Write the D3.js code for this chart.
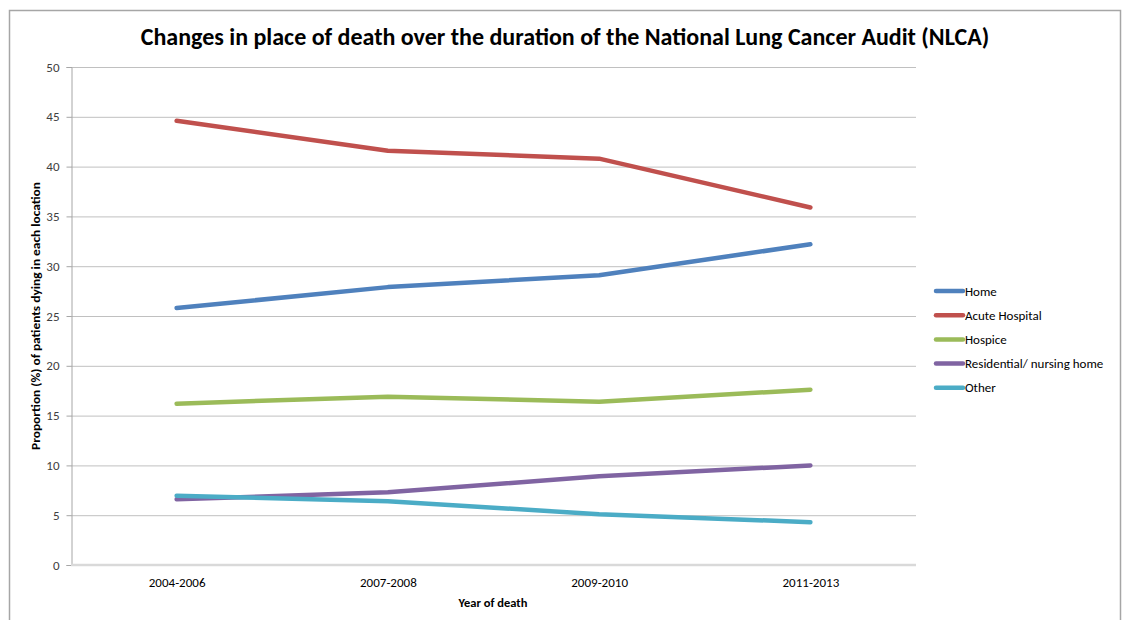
<!DOCTYPE html>
<html><head><meta charset="utf-8">
<script src="https://cdn.jsdelivr.net/npm/d3@7"></script>
<style>
body{margin:0;background:#fff;}
svg{display:block;font-family:Carlito,Calibri,"Open Sans",sans-serif;}
</style></head><body>
<svg id="chart" width="1126" height="620"></svg>
<script>
const categories = ["2004-2006","2007-2008","2009-2010","2011-2013"];
const seriesNames = ["Home","Acute Hospital","Hospice","Residential/ nursing home","Other"];
const home = [25.8, 27.9, 29.1, 32.2];
const acuteHospital = [44.6, 41.6, 40.8, 35.9];
const hospice = [16.2, 16.9, 16.4, 17.6];
const residential = [6.6, 7.3, 8.9, 10.0];
const other = [6.95, 6.4, 5.1, 4.3];
const yTicks = [0,5,10,15,20,25,30,35,40,45,50];
const colors = ["#4F81BD","#C0504D","#9BBB59","#8064A2","#4BACC6"];

const series = [home, acuteHospital, hospice, residential, other].map((v,i)=>({name:seriesNames[i], values:v, color:colors[i]}));

const svg = d3.select("#chart");
const pL = 71, pR = 916, pT = 67, pB = 565;

// outer border
svg.append("rect").attr("x",9.5).attr("y",10.5).attr("width",1111).attr("height",640)
  .attr("fill","none").attr("stroke","#a6a6a6").attr("stroke-width",1.5);

const x = d3.scalePoint().domain(categories).range([pL,pR]).padding(0.5);
const y = d3.scaleLinear().domain([0,50]).range([pB,pT]);

// gridlines
svg.append("g").selectAll("line").data(yTicks.filter(d=>d>0)).join("line")
  .attr("x1",pL).attr("x2",pR).attr("y1",d=>y(d)+0.5).attr("y2",d=>y(d)+0.5)
  .attr("stroke","#c0c0c0").attr("stroke-width",1);

// y axis
const yAxis = svg.append("g").attr("transform",`translate(${pL+0.5},0)`)
  .call(d3.axisLeft(y).tickValues(yTicks).tickSize(5).tickPadding(7).tickFormat(d3.format("d")));
yAxis.select(".domain").attr("stroke","#a6a6a6");
yAxis.selectAll(".tick line").attr("stroke","#a6a6a6");
yAxis.selectAll("text").attr("font-size",13).attr("fill","#404040").attr("font-family","Carlito,Calibri,'Open Sans',sans-serif");

// x axis
const xAxis = svg.append("g").attr("transform",`translate(0,${pB})`)
  .call(d3.axisBottom(x).tickSize(0).tickPadding(13));
xAxis.select(".domain").attr("stroke","#d9d9d9").attr("stroke-width",2.5).attr("d",`M${pL},0H${pR}`);
xAxis.selectAll("text").attr("font-size",13).attr("fill","#000").attr("font-family","Carlito,Calibri,'Open Sans',sans-serif");

// lines
const line = d3.line().x((d,i)=>x(categories[i])).y(d=>y(d));
svg.append("g").selectAll("path").data(series).join("path")
  .attr("d",d=>line(d.values)).attr("fill","none").attr("stroke",d=>d.color)
  .attr("stroke-width",4.5).attr("stroke-linecap","round").attr("stroke-linejoin","round");

// title
svg.append("text").attr("x",565).attr("y",45).attr("text-anchor","middle")
  .attr("font-size",24).attr("font-weight","bold").attr("fill","#000")
  .text("Changes in place of death over the duration of the National Lung Cancer Audit (NLCA)");

// axis titles
svg.append("text").attr("x",493).attr("y",607).attr("text-anchor","middle")
  .attr("font-size",12.5).attr("font-weight","bold").text("Year of death");
svg.append("text").attr("transform",`translate(40,${(pT+pB)/2}) rotate(-90)`).attr("text-anchor","middle")
  .attr("font-size",12.5).attr("font-weight","bold")
  .attr("textLength",268).attr("lengthAdjust","spacingAndGlyphs")
  .text("Proportion  (%) of patients dying in each location");

// legend
const lg = svg.append("g").selectAll("g").data(series).join("g")
  .attr("transform",(d,i)=>`translate(936,${291+i*24.2})`);
lg.append("line").attr("x1",0).attr("x2",27).attr("stroke",d=>d.color).attr("stroke-width",4.5).attr("stroke-linecap","round");
lg.append("text").attr("x",29).attr("dy","0.35em").attr("font-size",13).attr("fill","#000").text(d=>d.name);
</script>
</body></html>
